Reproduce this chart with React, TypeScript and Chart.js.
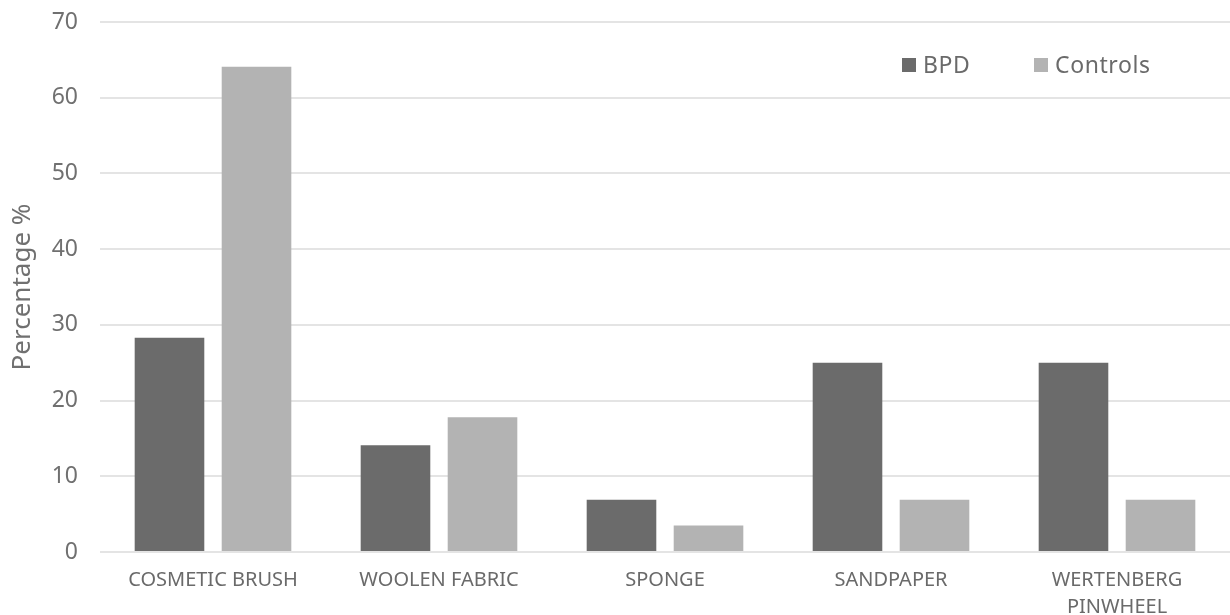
import React, { useEffect, useRef } from "react";
import { Chart, registerables } from "chart.js";

Chart.register(...registerables);

const categories: (string | string[])[] = [
  "COSMETIC BRUSH",
  "WOOLEN FABRIC",
  "SPONGE",
  "SANDPAPER",
  ["WERTENBERG", "PINWHEEL"],
];
const bpdValues = [28.3, 14.1, 6.9, 25.0, 25.0];
const controlValues = [64.1, 17.8, 3.5, 6.9, 6.9];
const seriesNames = ["BPD", "Controls"];
const yTicks = [0, 10, 20, 30, 40, 50, 60, 70];

const FONT = "'Noto Sans', 'Open Sans', sans-serif";

const legendPlugin = {
  id: "insideLegend",
  afterDraw(chart: any) {
    const ctx = chart.ctx;
    const area = chart.chartArea;
    const colors = ["#6b6b6b", "#b3b3b3"];
    const xs = [area.right - 328, area.right - 196];
    const y = area.top + 43;
    ctx.save();
    ctx.font = `23px ${FONT}`;
    (ctx as any).letterSpacing = "0.6px";
    ctx.textBaseline = "middle";
    seriesNames.forEach((name, i) => {
      ctx.fillStyle = colors[i];
      ctx.fillRect(xs[i], y - 7, 14, 14);
      ctx.fillStyle = "#6a6a6a";
      ctx.fillText(name, xs[i] + 21, y + 1);
    });
    ctx.restore();
  },
};

export default function App() {
  const ref = useRef<HTMLCanvasElement>(null);
  useEffect(() => {
    document.body.style.margin = "0";
    const chart = new Chart(ref.current!, {
      type: "bar",
      data: {
        labels: categories,
        datasets: [
          {
            label: seriesNames[0],
            data: bpdValues,
            backgroundColor: "#6b6b6b",
            categoryPercentage: 0.77,
            barPercentage: 0.8,
          },
          {
            label: seriesNames[1],
            data: controlValues,
            backgroundColor: "#b3b3b3",
            categoryPercentage: 0.77,
            barPercentage: 0.8,
          },
        ],
      },
      options: {
        animation: false,
        responsive: false,
        maintainAspectRatio: false,
        layout: { padding: { top: 0, right: 0, left: 0, bottom: 0 } },
        plugins: {
          legend: { display: false },
          tooltip: { enabled: false },
        },
        scales: {
          x: {
            grid: { display: false, drawTicks: false },
            border: { display: false },
            ticks: {
              color: "#6a6a6a",
              font: { family: FONT, size: 20, lineHeight: 1.35 },
              padding: 15,
              maxRotation: 0,
              autoSkip: false,
            },
            afterFit: (scale: any) => {
              scale.height = 63;
              scale.paddingLeft = 0;
              scale.paddingRight = 0;
            },
          },
          y: {
            min: 0,
            max: 70,
            afterBuildTicks: (scale: any) => {
              scale.ticks = yTicks.map((v) => ({ value: v }));
            },
            grid: { color: "#e4e4e4", lineWidth: 2, drawTicks: false },
            border: { display: false },
            ticks: {
              color: "#707070",
              font: { family: FONT, size: 23 },
              padding: 22,
            },
            title: {
              display: true,
              text: "Percentage %",
              color: "#707070",
              font: { family: FONT, size: 26 },
              padding: { top: 7, bottom: 0 },
            },
            afterFit: (scale: any) => {
              scale.width = 100;
              scale.paddingTop = 22;
              scale.paddingBottom = 0;
            },
          },
        },
      },
      plugins: [legendPlugin],
    });
    return () => chart.destroy();
  }, []);
  return (
    <div style={{ width: 1230, height: 615 }}>
      <canvas ref={ref} width={1230} height={615} />
    </div>
  );
}
